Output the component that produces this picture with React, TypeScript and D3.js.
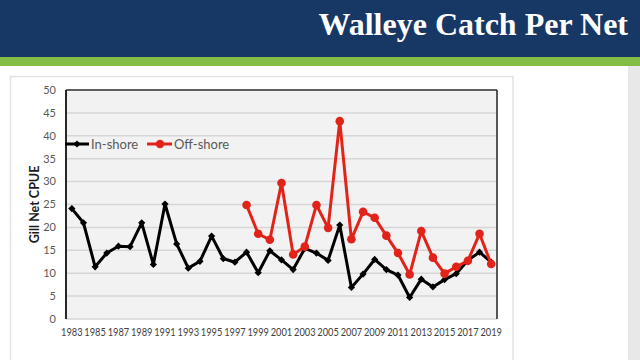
import React from "react";
import * as d3 from "d3";

const years: number[] = d3.range(1983, 2020);
const inshore: number[] = [
  24.1, 21.0, 11.4, 14.4, 15.9, 15.8, 21.0, 11.9, 25.1, 16.4,
  11.1, 12.6, 18.1, 13.2, 12.4, 14.6, 10.1, 14.9, 12.9, 10.8,
  15.4, 14.4, 12.8, 20.5, 6.9, 9.8, 13.0, 10.8, 9.6, 4.7,
  8.7, 7.0, 8.6, 9.9, 12.8, 14.6, 12.4,
];
const offshoreYears: number[] = d3.range(1998, 2020);
const offshore: number[] = [
  24.9, 18.6, 17.3, 29.7, 14.1, 15.8, 24.9, 19.9, 43.2, 17.4,
  23.4, 22.1, 18.2, 14.4, 9.7, 19.2, 13.4, 9.9, 11.4, 12.7,
  18.6, 12.0,
];
const yTicks: number[] = [0, 5, 10, 15, 20, 25, 30, 35, 40, 45, 50];
const xTickLabels: number[] = years.filter((y) => (y - 1983) % 2 === 0);
const seriesNames: string[] = ["In-shore", "Off-shore"];
const title = "Walleye Catch Per Net";
const yTitle = "Gill Net CPUE";

const W = 640;
const H = 360;
const plot = { left: 66, right: 497, top: 90, bottom: 319 };
const BLACK = "#000000";
const RED = "#e2231a";
const FONT = "Lato, 'Open Sans', sans-serif";

export default function App() {
  const x = d3
    .scaleBand<number>()
    .domain(years)
    .range([plot.left, plot.right]);
  const cx = (yr: number) => (x(yr) as number) + x.bandwidth() / 2;
  const y = d3.scaleLinear().domain([0, 50]).range([plot.bottom, plot.top]);

  const inData = years.map((yr, i) => ({ yr, v: inshore[i] }));
  const offData = offshoreYears.map((yr, i) => ({ yr, v: offshore[i] }));

  const line = d3
    .line<{ yr: number; v: number }>()
    .x((d) => cx(d.yr))
    .y((d) => y(d.v));

  const diamond = d3.symbol().type(d3.symbolSquare).size(26)() as string;

  return (
    <svg
      width={W}
      height={H}
      style={{ position: "absolute", left: 0, top: 0, display: "block" }}
    >
      {/* page background */}
      <rect x={0} y={0} width={W} height={H} fill="#ffffff" />
      {/* header */}
      <rect x={0} y={0} width={W} height={58} fill="#173865" />
      <rect x={0} y={57} width={W} height={9} fill="#84bd45" />
      <text
        x={628}
        y={35}
        textAnchor="end"
        fill="#ffffff"
        fontFamily="'Liberation Serif', 'Times New Roman', serif"
        fontWeight="bold"
        fontSize={32}
      >
        {title}
      </text>
      {/* right gray strip */}
      <rect x={628} y={66} width={12} height={H - 66} fill="#e8e8e8" />
      {/* card */}
      <rect
        x={10.5}
        y={76.5}
        width={502.5}
        height={300}
        fill="#ffffff"
        stroke="#dfe3e3"
        strokeWidth={1.5}
      />
      {/* plot area */}
      <rect
        x={plot.left}
        y={plot.top}
        width={plot.right - plot.left}
        height={plot.bottom - plot.top}
        fill="#f2f2f2"
      />
      {yTicks.map((t) => (
        <line
          key={"g" + t}
          x1={plot.left}
          x2={plot.right}
          y1={y(t)}
          y2={y(t)}
          stroke="#d6d6d6"
          strokeWidth={1.5}
        />
      ))}
      {/* borders */}
      <line x1={plot.left} x2={plot.right} y1={plot.top} y2={plot.top} stroke="#333" strokeWidth={1.5} />
      <line x1={plot.right} x2={plot.right} y1={plot.top} y2={plot.bottom} stroke="#222" strokeWidth={1.5} />
      <line x1={plot.left} x2={plot.left} y1={plot.top} y2={plot.bottom} stroke="#111" strokeWidth={1.8} />

      {/* y ticks */}
      {yTicks.map((t) => (
        <text
          key={"yt" + t}
          x={56}
          y={y(t)}
          dy="0.35em"
          textAnchor="end"
          fontFamily={FONT}
          fontSize={11}
          fill="#595959"
        >
          {t}
        </text>
      ))}
      {/* x ticks */}
      {xTickLabels.map((yr) => (
        <text
          key={"xt" + yr}
          x={cx(yr)}
          y={336}
          textAnchor="middle"
          fontFamily={FONT}
          fontSize={11}
          fill="#404040"
          textLength={21.5}
          lengthAdjust="spacingAndGlyphs"
        >
          {yr}
        </text>
      ))}
      {/* y title */}
      <text
        transform={`translate(39,${(plot.top + plot.bottom) / 2}) rotate(-90)`}
        textAnchor="middle"
        fontFamily={FONT}
        fontWeight="bold"
        fontSize={12.5}
        fill="#1a1a1a"
      >
        {yTitle}
      </text>

      {/* legend */}
      <line x1={65} x2={89} y1={144} y2={144} stroke={BLACK} strokeWidth={3} />
      <path d={diamond} transform="translate(77,144) rotate(45)" fill={BLACK} />
      <text x={91} y={144} dy="0.35em" fontFamily={FONT} fontSize={13} fill="#595959">
        {seriesNames[0]}
      </text>
      <line x1={147} x2={172} y1={144} y2={144} stroke={RED} strokeWidth={3} />
      <circle cx={160} cy={144} r={4.2} fill={RED} />
      <text x={174} y={144} dy="0.35em" fontFamily={FONT} fontSize={13} fill="#595959">
        {seriesNames[1]}
      </text>

      {/* in-shore series */}
      <path d={line(inData) as string} fill="none" stroke={BLACK} strokeWidth={3} strokeLinejoin="round" />
      {inData.map((d) => (
        <path
          key={"d" + d.yr}
          d={diamond}
          transform={`translate(${cx(d.yr)},${y(d.v)}) rotate(45)`}
          fill={BLACK}
        />
      ))}
      {/* off-shore series */}
      <path d={line(offData) as string} fill="none" stroke={RED} strokeWidth={3} strokeLinejoin="round" />
      {offData.map((d) => (
        <circle key={"c" + d.yr} cx={cx(d.yr)} cy={y(d.v)} r={4.3} fill={RED} />
      ))}
    </svg>
  );
}
